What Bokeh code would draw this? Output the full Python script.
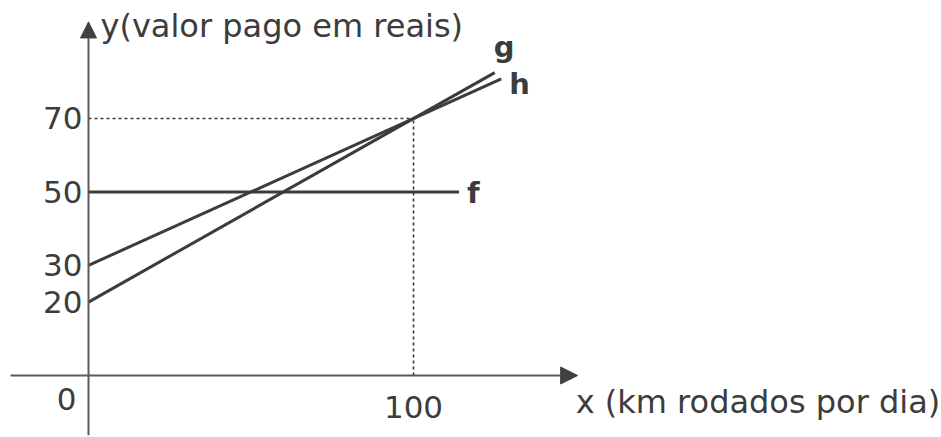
from bokeh.plotting import figure
from bokeh.models import Range1d, Arrow, NormalHead
from bokeh.core.properties import value
from bokeh.embed import file_html
from bokeh.resources import INLINE

# ---- data ----
g_x = [0, 125]
g_y = [20, 82.5]
h_x = [0, 127]
h_y = [30, 80.8]
f_x = [0, 114]
f_y = [50, 50]
y_ticks = [20, 30, 50, 70]
y_tick_labels = ["20", "30", "50", "70"]
x_ticks = [100]
x_tick_labels = ["100"]
origin_label = "0"
meet_x = 100
meet_y = 70
x_title = "x (km rodados por dia)"
y_title = "y(valor pago em reais)"
line_names = ["g", "h", "f"]

# axis extents (data units)
x_axis_from, x_axis_to = -24, 150.5
y_axis_from, y_axis_to = -16.3, 96.3

FONT = value("DejaVu Sans")
INK = "#3c3c3c"
AXIS = "#5a5a5a"

p = figure(width=941, height=437, output_backend="svg", toolbar_location=None,
           x_range=Range1d(-27.077, 262.46), y_range=Range1d(-16.887, 102.140),
           min_border=0, min_border_left=0, min_border_right=0,
           min_border_top=0, min_border_bottom=0)
p.axis.visible = False
p.grid.visible = False
p.outline_line_color = None
p.background_fill_color = "white"
p.border_fill_color = "white"

# dotted guides
p.line([0, meet_x], [meet_y, meet_y], line_color=INK, line_width=1.6, line_dash="3 3")
p.line([meet_x, meet_x], [0, meet_y], line_color=INK, line_width=1.6, line_dash="3 3")

# axes with arrows
p.add_layout(Arrow(x_start=x_axis_from, y_start=0, x_end=x_axis_to, y_end=0,
                   line_color=AXIS, line_width=2,
                   end=NormalHead(size=17, fill_color="#404040", line_color="#404040")))
p.add_layout(Arrow(x_start=0, y_start=y_axis_from, x_end=0, y_end=y_axis_to,
                   line_color=AXIS, line_width=2,
                   end=NormalHead(size=16, fill_color="#404040", line_color="#404040")))

# lines
p.line(g_x, g_y, line_color=INK, line_width=3)
p.line(h_x, h_y, line_color=INK, line_width=3)
p.line(f_x, f_y, line_color=INK, line_width=3)

# line names
p.text(x=[g_x[1], h_x[1], f_x[1]], y=[g_y[1], h_y[1], f_y[1]], text=line_names,
       x_offset=[-1, 8, 8], y_offset=[-26, 5, 1],
       text_font=FONT, text_font_size="29px", text_font_style="bold",
       text_color=INK, text_align="left", text_baseline="middle")

# tick labels
p.text(x=[0] * len(y_ticks), y=y_ticks, text=y_tick_labels, x_offset=-6,
       text_font=FONT, text_font_size="31px", text_color=INK,
       text_align="right", text_baseline="middle")
p.text(x=x_ticks, y=[0] * len(x_ticks), text=x_tick_labels, y_offset=31,
       text_font=FONT, text_font_size="31px", text_color=INK,
       text_align="center", text_baseline="middle")
p.text(x=[0], y=[0], text=[origin_label], x_offset=-22, y_offset=23,
       text_font=FONT, text_font_size="31px", text_color=INK,
       text_align="center", text_baseline="middle")

# axis titles
p.text(x=[x_axis_to], y=[0], text=[x_title], x_offset=-2, y_offset=26,
       text_font=FONT, text_font_size="32px", text_color=INK,
       text_align="left", text_baseline="middle")
p.text(x=[0], y=[y_axis_to], text=[y_title], x_offset=12, y_offset=4,
       text_font=FONT, text_font_size="32px", text_color=INK,
       text_align="left", text_baseline="middle")

open("out.html", "w").write(file_html(p, INLINE))
